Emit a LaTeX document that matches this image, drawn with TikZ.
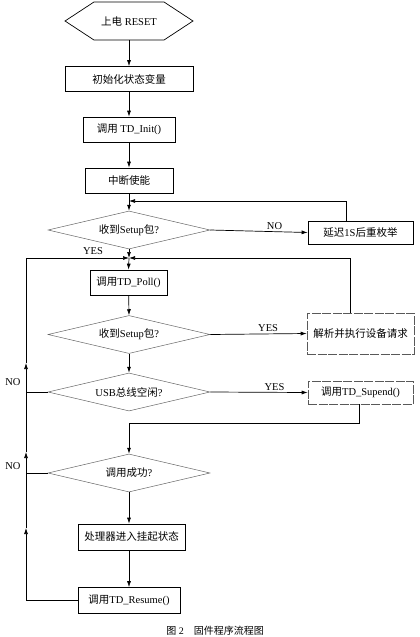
\documentclass[tikz,border=0pt]{standalone}
\usepackage{fontspec}
\setmainfont{Liberation Serif}
\newfontfamily\cjk{Noto Sans CJK SC}
\newcommand{\zh}[1]{{\cjk #1}}
\newcommand{\flowfont}{\fontsize{10.5}{12}\selectfont}
\usetikzlibrary{arrows.meta,positioning,shapes.geometric}

\begin{document}
\begin{tikzpicture}[
  x=1pt, y=-1pt,
  every node/.style={font=\flowfont},
  stepbox/.style={draw,line width=0.7pt,minimum height=25pt,inner sep=2pt},
  sidebox/.style={draw=black!65,line width=0.6pt,dash pattern=on 9pt off 1.5pt,inner sep=2pt},
  decide/.style={draw=black!60,diamond,aspect=4.26,line width=0.5pt,minimum width=162pt,minimum height=38pt,inner sep=0pt},
  lab/.style={font=\flowfont,inner sep=1.5pt},
  >={Latex[length=6pt,width=4pt]},
  line width=0.7pt
]
\useasboundingbox (0,0) rectangle (420,637);

% start
\node (reset) at (129,21) {\zh{上电} RESET};
\draw[line width=0.7pt] (65,21) -- (94,2) -- (164,2) -- (193,21) -- (164,40) -- (94,40) -- cycle;

\node[stepbox,minimum width=128pt] (init) at (129,79) {\zh{初始化状态变量}};
\node[stepbox,minimum width=92pt] (tdinit) at (129,129.5) {\zh{调用} TD\_Init()};
\node[stepbox,minimum width=88pt] (irq) at (129,180.5) {\zh{中断使能}};
\node[decide] (setup1) at (129,230) {\zh{收到}Setup\zh{包}?};
\node[stepbox,minimum width=105pt,minimum height=23pt] (delay) at (360.5,232.5) {\zh{延迟}1S\zh{后重枚举}};
\node[stepbox,minimum width=77pt] (poll) at (128.5,282.5) {\zh{调用}TD\_Poll()};
\node[decide] (setup2) at (129,334.5) {\zh{收到}Setup\zh{包}?};
\node[sidebox,minimum width=107pt,minimum height=41pt] (parse) at (360.5,333.5) {\zh{解析并执行设备请求}};
\node[decide] (usb) at (129,392) {USB\zh{总线空闲}?};
\node[sidebox,minimum width=105pt,minimum height=23pt] (suspend) at (360.5,392.5) {\zh{调用}TD\_Supend()};
\node[decide] (ok) at (129,473) {\zh{调用成功}?};
\node[stepbox,minimum width=107pt,minimum height=26pt] (sleep) at (131.5,537) {\zh{处理器进入挂起状态}};
\node[stepbox,minimum width=102pt,minimum height=26pt] (resume) at (129,600.5) {\zh{调用}TD\_Resume()};

\coordinate (m1) at (129,201);
\coordinate (m2) at (129,258);
\coordinate (j) at (129,423);
\coordinate (a1) at (26,528);
\coordinate (a2) at (26,452);
\coordinate (a3) at (26,363);

% main column
\draw[->] (reset.south |- 0,40) -- (init.north);
\draw[->] (init) -- (tdinit);
\draw[->] (tdinit) -- (irq);
\draw[->] (irq) -- (setup1.north);
\draw[->] (setup1.south) -- (m2);
\draw[->] (m2) -- (poll.north);
\draw[->] (poll) -- (setup2.north);
\draw[->] (setup2.south) -- (usb.north);
\draw[->] (ok.south) -- (ok.south |- sleep.north);
\draw[->] (ok.south |- sleep.south) -- (resume.north);

% right branches
\draw[->] (setup1.east) -- node[above,lab,pos=0.66] {NO} (delay.west);
\draw[->] ([xshift=-14pt]delay.north) |- (m1);
\draw[->] (setup2.east) -- node[above,lab,pos=0.6] {YES} (parse.west);
\draw[->] ([xshift=-10pt]parse.north) |- (m2);
\draw[->] (usb.east) -- node[above,lab,pos=0.66] {YES} (suspend.west);
\draw[->] ([xshift=-1.5pt]suspend.south) |- (j) -- (ok.north);

% left return line
\draw[->] (resume.west) -| (a1);
\draw[->] (a1) -- (a2);
\draw (ok.west) -- (ok.west -| a2);
\draw[->] (a2) -- (a3);
\draw (usb.west) -- (usb.west -| a3);
\draw[->] (a3) |- (m2);

\node[lab] (yes1) at (93,251) {YES};
\node[lab] (no2) at (13,382) {NO};
\node[lab] (no3) at (13,466) {NO};

\node[font=\fontsize{10}{12}\selectfont] (cap) at (215,631) {\zh{图} 2\quad\zh{固件程序流程图}};
\end{tikzpicture}
\end{document}
